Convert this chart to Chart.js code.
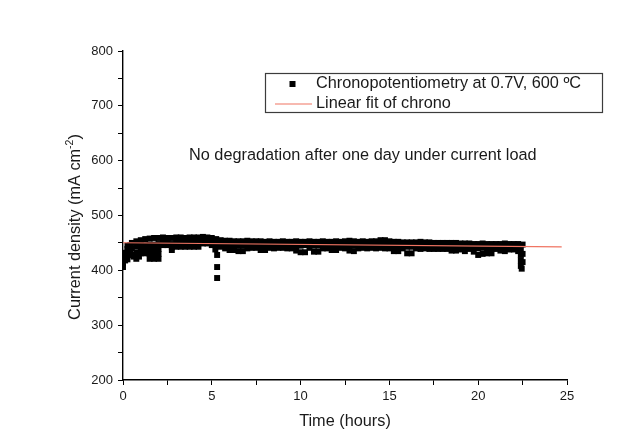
<!DOCTYPE html>
<html>
<head>
<meta charset="utf-8">
<script src="https://cdn.jsdelivr.net/npm/chart.js@4.4.1/dist/chart.umd.min.js"></script>
<style>
html, body { margin: 0; padding: 0; background: #fff; }
#wrap { width: 634px; height: 446px; }
</style>
</head>
<body>
<div id="wrap"><canvas id="chronoChart" width="634" height="446"></canvas></div>
<script>
// ----- DATA -----
const hours = [
    0, 0.25, 0.5, 0.75, 1, 1.25, 1.5, 1.75, 2, 2.25,
    2.5, 2.75, 3, 3.25, 3.5, 3.75, 4, 4.25, 4.5, 4.75,
    5, 5.25, 5.5, 5.75, 6, 6.25, 6.5, 6.75, 7, 7.25,
    7.5, 7.75, 8, 8.25, 8.5, 8.75, 9, 9.25, 9.5, 9.75,
    10, 10.25, 10.5, 10.75, 11, 11.25, 11.5, 11.75, 12, 12.25,
    12.5, 12.75, 13, 13.25, 13.5, 13.75, 14, 14.25, 14.5, 14.75,
    15, 15.25, 15.5, 15.75, 16, 16.25, 16.5, 16.75, 17, 17.25,
    17.5, 17.75, 18, 18.25, 18.5, 18.75, 19, 19.25, 19.5, 19.75,
    20, 20.25, 20.5, 20.75, 21, 21.25, 21.5, 21.75, 22, 22.25,
    22.5
];
// upper edge of the noisy band (mA cm-2)
const upperDensity = [
    432, 445, 450, 453, 455, 457, 458, 459, 459, 460,
    459, 459, 460, 460, 459, 460, 460, 460, 461, 460,
    459, 457, 455, 454, 454, 453, 453, 453, 454, 453,
    453, 453, 452, 453, 452, 452, 453, 452, 452, 453,
    452, 452, 453, 452, 452, 453, 452, 452, 453, 452,
    453, 454, 453, 452, 453, 452, 453, 453, 455, 455,
    453, 452, 452, 451, 451, 451, 451, 452, 451, 451,
    450, 450, 450, 450, 450, 450, 449, 449, 449, 448,
    448, 449, 448, 448, 448, 448, 449, 448, 448, 448,
    447
];
const middleDensity = [
    420, 433, 440, 443, 445, 446, 447, 447, 448, 452,
    450, 448, 450, 451, 450, 451, 452, 452, 454, 454,
    452, 450, 449, 447, 446, 446, 445, 445, 446, 447,
    446, 446, 446, 447, 446, 446, 447, 446, 446, 445,
    445, 446, 447, 445, 445, 446, 446, 445, 446, 446,
    446, 446, 445, 446, 446, 445, 446, 446, 447, 446,
    445, 444, 444, 445, 443, 443, 445, 445, 444, 444,
    444, 443, 444, 443, 442, 442, 443, 442, 443, 442,
    440, 441, 440, 440, 443, 441, 441, 442, 442, 441,
    430
];
const lowerDensity = [
    406, 420, 428, 421, 431, 431, 421, 421, 421, 446,
    446, 437, 443, 443, 443, 443, 443, 443, 449, 449,
    446, 444, 443, 440, 437, 437, 435, 435, 440, 441,
    441, 437, 437, 441, 440, 441, 441, 440, 440, 436,
    433, 433, 441, 434, 434, 440, 440, 437, 437, 441,
    440, 436, 435, 440, 441, 440, 441, 440, 441, 440,
    440, 435, 435, 440, 431, 431, 440, 439, 440, 439,
    439, 439, 439, 439, 436, 436, 438, 435, 439, 434,
    428, 430, 431, 431, 439, 436, 435, 438, 438, 435,
    415
];
// extra readings: start-up transient, drop near 5.3 h and the end of the run
const extraHours = [0, 0, 0.12, 0.12, 0.25, 0.25, 0.4, 0.4, 0.6, 0.75, 0.9, 1, 1.25,
    1.5, 1.5, 1.75, 1.75, 2, 2, 2.75, 5.2, 5.3, 5.3, 5.3, 22.4, 22.4, 22.4, 22.4, 22.45];
const extraDensity = [413, 426, 418, 430, 427, 439, 432, 446, 425, 432, 425, 438, 438,
    430, 439, 430, 439, 430, 439, 442, 438, 428, 406, 386, 438, 428, 418, 408, 403];

const fitHours = [0, 24.7];
const fitDensity = [450.3, 442.6];

const legendLabels = ['Chronopotentiometry at 0.7V, 600 \u00baC', 'Linear fit of chrono'];
const noteText = 'No degradation after one day under current load';
const xTitle = 'Time (hours)';
const yTitleMain = 'Current density (mA cm';

const FONT = "'Liberation Sans', Arial, sans-serif";
const TEXT_SIZE = 16.3;

// ----- BUILD POINTS -----
const chronoPoints = [];
hours.forEach((h, i) => {
    chronoPoints.push({ x: h, y: upperDensity[i] });
    chronoPoints.push({ x: h, y: middleDensity[i] });
    chronoPoints.push({ x: h, y: lowerDensity[i] });
});
extraHours.forEach((h, i) => chronoPoints.push({ x: h, y: extraDensity[i] }));
const fitPoints = fitHours.map((h, i) => ({ x: h, y: fitDensity[i] }));

// legend box, note and y title with superscript
const overlayPlugin = {
    id: 'overlay',
    afterDraw(chart) {
        const c = chart.ctx;
        const big = TEXT_SIZE + 'px ' + FONT;
        c.save();
        c.strokeStyle = '#3c3c3c';
        c.lineWidth = 1.2;
        c.strokeRect(265.5, 73.5, 337, 39);
        c.fillStyle = '#000';
        c.fillRect(289.5, 81, 6, 6);
        c.strokeStyle = '#f07462';
        c.lineWidth = 1.2;
        c.beginPath(); c.moveTo(275, 104); c.lineTo(312, 104); c.stroke();

        c.fillStyle = '#1a1a1a';
        c.font = big;
        c.textBaseline = 'middle';
        c.textAlign = 'left';
        c.fillText(legendLabels[0], 316, 84);
        c.fillText(legendLabels[1], 316, 104);
        c.fillText(noteText, 189, 156);

        // y title
        c.translate(80, 227);
        c.rotate(-Math.PI / 2);
        c.textBaseline = 'alphabetic';
        c.font = big;
        const w1 = c.measureText(yTitleMain).width;
        const w3 = c.measureText(')').width;
        c.font = '10.5px ' + FONT;
        const w2 = c.measureText('-2').width;
        const x0 = -(w1 + w2 + w3) / 2;
        c.font = big;
        c.fillText(yTitleMain, x0, 0);
        c.font = '10.5px ' + FONT;
        c.fillText('-2', x0 + w1, -7.5);
        c.font = big;
        c.fillText(')', x0 + w1 + w2, 0);
        c.restore();
    }
};

const ctx = document.getElementById('chronoChart').getContext('2d');
new Chart(ctx, {
    type: 'scatter',
    data: {
        datasets: [
            { label: legendLabels[1], data: fitPoints, showLine: true, borderColor: '#f07462', borderWidth: 1.2, pointRadius: 0, order: 0 },
            { label: legendLabels[0], data: chronoPoints, pointStyle: 'rect', pointRadius: 4.2, backgroundColor: '#000', borderWidth: 0, order: 1 }
        ]
    },
    options: {
        responsive: false,
        animation: false,
        events: [],
        layout: { padding: { top: 51, right: 67, left: 0, bottom: 0 } },
        plugins: { legend: { display: false }, tooltip: { enabled: false } },
        scales: {
            x: {
                type: 'linear', min: 0, max: 25,
                afterFit: s => { s.height = 66; },
                border: { color: '#000', width: 1.4 },
                grid: { drawOnChartArea: false, drawTicks: true, tickLength: 5, color: '#000' },
                ticks: { stepSize: 2.5, autoSkip: false, maxRotation: 0, padding: 4, color: '#1a1a1a',
                    font: { family: FONT, size: 13 }, callback: v => v % 5 === 0 ? v : '' },
                title: { display: true, text: xTitle, color: '#1a1a1a', font: { family: FONT, size: TEXT_SIZE }, padding: { top: 0, bottom: 15 } }
            },
            y: {
                min: 200, max: 800,
                afterFit: s => { s.width = 123; },
                border: { color: '#000', width: 1.4 },
                grid: { drawOnChartArea: false, drawTicks: true, tickLength: 5, color: '#000' },
                ticks: { stepSize: 50, autoSkip: false, padding: 5, color: '#1a1a1a',
                    font: { family: FONT, size: 13 }, callback: v => v % 100 === 0 ? v : '' }
            }
        }
    },
    plugins: [overlayPlugin]
});
</script>
</body>
</html>
